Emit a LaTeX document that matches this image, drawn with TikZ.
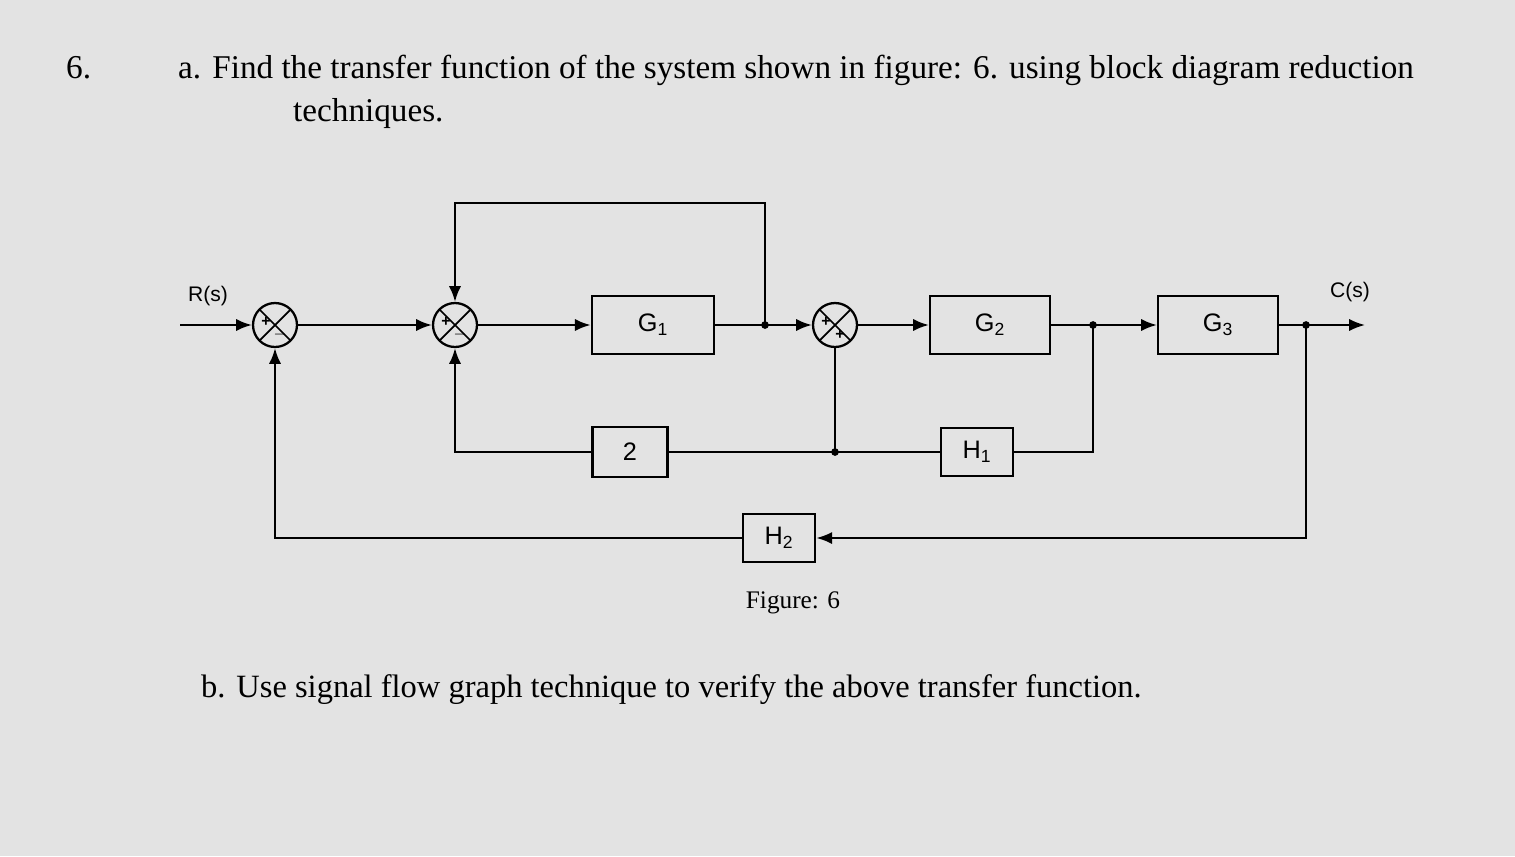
\documentclass[tikz,border=0pt]{standalone}
\usepackage{fontspec}
\setmainfont{Liberation Serif}
\newfontfamily\hand{Liberation Sans}
\usetikzlibrary{arrows.meta}
\begin{document}
\begin{tikzpicture}[x=0.02cm,y=-0.02cm,
 sig/.style={line width=1.2pt},
 arr/.style={sig,-{Latex[length=9pt,width=7pt]}},
 blk/.style={draw,line width=1.3pt,minimum width=#1,minimum height=1.15cm,font=\hand\Large},
 sum/.style={draw,circle,line width=1.3pt,minimum size=0.88cm,inner sep=0pt,
   path picture={\draw[line width=1pt] (path picture bounding box.north west)--(path picture bounding box.south east)
   (path picture bounding box.north east)--(path picture bounding box.south west);}},
 sg/.style={font=\hand\small\bfseries,inner sep=0pt}]
\fill[black!11] (0,0) rectangle (1515,856);
\useasboundingbox (0,0) rectangle (1515,856);
\node[anchor=west,font=\fontsize{19}{23}\selectfont] (q) at (60,68) {6.};
\node[anchor=west,font=\fontsize{18.9}{23}\selectfont] (ta) at (172,70) {a. Find the transfer function of the system shown in figure: 6. using block diagram reduction};
\node[anchor=west,font=\fontsize{18.9}{23}\selectfont] (tb) at (287,114) {techniques.};
\node[font=\Large] (fig) at (793,603) {Figure: 6};
\node[anchor=west,font=\fontsize{18.5}{22}\selectfont] (pb) at (195,690) {b. Use signal flow graph technique to verify the above transfer function.};
% nodes
\node[sum] (s1) at (275,325) {};
\node[sum] (s2) at (455,325) {};
\node[sum] (s3) at (835,325) {};
\node[blk=2.45cm] (g1) at (653,325) {G\textsubscript{1}};
\node[blk=2.4cm] (g2) at (990,325) {G\textsubscript{2}};
\node[blk=2.4cm] (g3) at (1218,325) {G\textsubscript{3}};
\node[blk=1.5cm,minimum height=1cm] (k2) at (630,452) {2};
\node[blk=1.45cm,minimum height=0.95cm] (h1) at (977,452) {H\textsubscript{1}};
\node[blk=1.45cm,minimum height=0.95cm] (h2) at (779,538) {H\textsubscript{2}};
\node[sg] at ([shift={(-9,-3)}]s1.center) {+};
\node[sg] at ([shift={(5,10)}]s1.center) {$-$};
\node[sg] at ([shift={(-9,-3)}]s2.center) {+};
\node[sg] at ([shift={(5,10)}]s2.center) {$-$};
\node[sg] at ([shift={(-9,-3)}]s3.center) {+};
\node[sg] at ([shift={(5,10)}]s3.center) {+};
\node[font=\hand\large] (rs) at (208,296) {R(s)};
\node[font=\hand\large] (cs) at (1350,292) {C(s)};
% coordinates
\coordinate (in) at (180,325);
\coordinate (b1) at (765,325);
\coordinate (b2) at (1093,325);
\coordinate (b3) at (1306,325);
\coordinate (out) at (1365,325);
\coordinate (j) at (835,452);
\draw[arr] (in) -- (s1.west);
\draw[arr] (s1.east) -- (s2.west);
\draw[arr] (s2.east) -- (g1.west);
\draw[sig] (g1.east) -- (b1);
\draw[arr] (b1) -- (s3.west);
\draw[arr] (s3.east) -- (g2.west);
\draw[sig] (g2.east) -- (b2);
\draw[arr] (b2) -- (g3.west);
\draw[sig] (g3.east) -- (b3);
\draw[arr] (b3) -- (out);
\draw[arr] (b1) |- (455,203) -- (s2.north);
\draw[sig] (s3.south) -- (j);
\draw[sig] (j) -- (k2.east);
\draw[arr] (k2.west) -| (s2.south);
\draw[sig] (j) -- (h1.west);
\draw[sig] (h1.east) -| (b2);
\draw[arr] (b3) |- (h2.east);
\draw[arr] (h2.west) -| (s1.south);
\foreach \p in {b1,b2,b3,j} \fill (\p) circle (2.2pt);
\end{tikzpicture}
\end{document}
